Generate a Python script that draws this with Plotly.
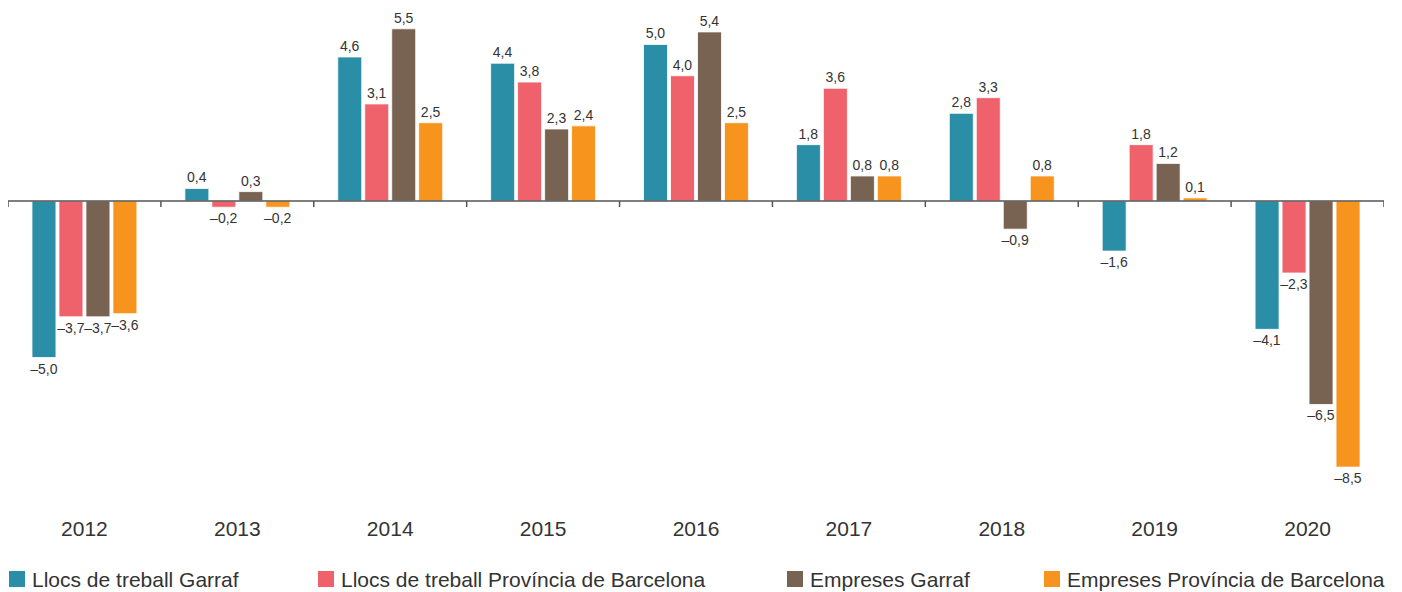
import plotly.graph_objects as go

years = ["2012", "2013", "2014", "2015", "2016", "2017", "2018", "2019", "2020"]
llocs_garraf = [-5.0, 0.4, 4.6, 4.4, 5.0, 1.8, 2.8, -1.6, -4.1]
llocs_bcn = [-3.7, -0.2, 3.1, 3.8, 4.0, 3.6, 3.3, 1.8, -2.3]
empreses_garraf = [-3.7, 0.3, 5.5, 2.3, 5.4, 0.8, -0.9, 1.2, -6.5]
empreses_bcn = [-3.6, -0.2, 2.5, 2.4, 2.5, 0.8, 0.8, 0.1, -8.5]

series_names = [
    "Llocs de treball Garraf",
    "Llocs de treball Província de Barcelona",
    "Empreses Garraf",
    "Empreses Província de Barcelona",
]
series_values = [llocs_garraf, llocs_bcn, empreses_garraf, empreses_bcn]
colors = ["#2a8fa6", "#f0626b", "#786353", "#f6941e"]

FONT = "Liberation Sans, Arial, Helvetica, sans-serif"
TXT = "#333333"

W, H = 1402, 592
ML, MR, MT, MB = 8, 18, 5, 82
PW, PH = W - ML - MR, H - MT - MB


def px_x(px):
    return (px - ML) / PW


def px_y(py):
    return (H - MB - py) / PH


def fmt(v):
    s = f"{abs(v):.1f}".replace(".", ",")
    return ("\u2013" + s) if v < 0 else s


fig = go.Figure()
for name, vals, col in zip(series_names, series_values, colors):
    fig.add_trace(go.Bar(
        x=years, y=vals, name=name,
        marker=dict(color=col, line=dict(color="rgba(255,255,255,0.8)", width=1)),
        text=[fmt(v) for v in vals],
        textposition="outside",
        constraintext="none",
        textfont=dict(size=14, color=TXT, family=FONT),
        cliponaxis=False,
        hoverinfo="skip",
        showlegend=False,
    ))

shapes = [dict(type="line", xref="paper", yref="y", x0=0, x1=1, y0=0, y1=0,
               line=dict(color="#555555", width=1.5))]
for i in range(len(years) + 1):
    shapes.append(dict(type="line", xref="x", yref="y",
                       x0=i - 0.5, x1=i - 0.5,
                       ysizemode="pixel", yanchor=0, y0=0, y1=-6,
                       line=dict(color="#555555", width=1.5)))

# custom legend (square + label) placed below the chart
legend_left_px = [9, 318, 787, 1044]
annotations = []
for name, col, lx in zip(series_names, colors, legend_left_px):
    shapes.append(dict(type="rect", xref="paper", yref="paper",
                       x0=px_x(lx), x1=px_x(lx + 16),
                       y0=px_y(587), y1=px_y(571),
                       fillcolor=col, line=dict(width=0)))
    annotations.append(dict(xref="paper", yref="paper",
                            x=px_x(lx + 21), y=px_y(579),
                            xanchor="left", yanchor="middle",
                            text=name, showarrow=False,
                            font=dict(size=21, color=TXT, family=FONT)))

fig.update_layout(
    width=W, height=H,
    margin=dict(l=ML, r=MR, t=MT, b=MB, autoexpand=False),
    paper_bgcolor="white", plot_bgcolor="white",
    barmode="group", bargap=0.294, bargroupgap=0.111,
    font=dict(family=FONT, color=TXT),
    showlegend=False,
    xaxis=dict(showgrid=False, showline=False, ticks="", zeroline=False,
               tickfont=dict(size=21, color=TXT, family=FONT),
               ticklabelstandoff=4,
               range=[-0.5, len(years) - 0.5]),
    yaxis=dict(range=[-9.87, 6.26], showgrid=False, zeroline=False,
               showticklabels=False, showline=False),
    shapes=shapes,
    annotations=annotations,
)

fig.write_html("out.html", config={"displayModeBar": False},
               post_script="document.body.style.margin='0';")
